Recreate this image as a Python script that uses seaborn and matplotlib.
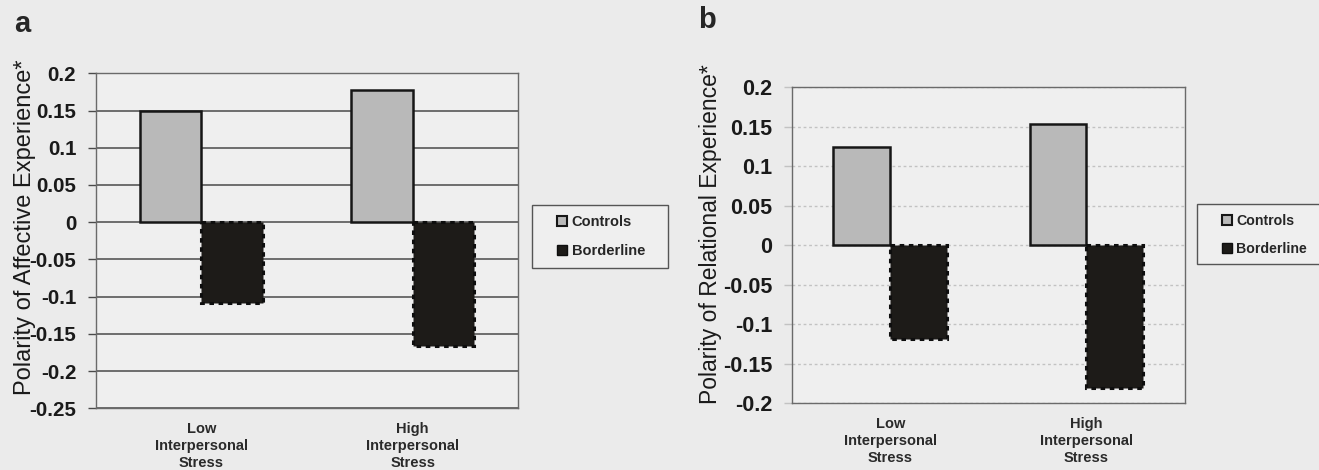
import numpy as np
import pandas as pd
import matplotlib
matplotlib.use("Agg")
import matplotlib.pyplot as plt
from matplotlib.patches import Patch, Rectangle
import seaborn as sns

# data
conditions = ["Low\nInterpersonal\nStress", "High\nInterpersonal\nStress"]
groups = ["Controls", "Borderline"]
affective_controls = [0.149, 0.177]
affective_borderline = [-0.108, -0.166]
relational_controls = [0.125, 0.153]
relational_borderline = [-0.118, -0.180]

ticks_a = [0.2, 0.15, 0.1, 0.05, 0, -0.05, -0.1, -0.15, -0.2, -0.25]
tick_labels_a = ["0.2", "0.15", "0.1", "0.05", "0", "-0.05", "-0.1", "-0.15", "-0.2", "-0.25"]
ticks_b = [0.2, 0.15, 0.1, 0.05, 0, -0.05, -0.1, -0.15, -0.2]
tick_labels_b = ["0.2", "0.15", "0.1", "0.05", "0", "-0.05", "-0.1", "-0.15", "-0.2"]

sns.set_style("white")
plt.rcParams["font.family"] = ["Liberation Sans", "DejaVu Sans"]

BG = "#ebebeb"
AX_BG = "#efefef"
CTRL = "#b9b9b9"
BORD = "#1d1b18"


def long_df(ctrl, bord):
    return pd.DataFrame({
        "Stress": conditions * 2,
        "Group": [groups[0]] * 2 + [groups[1]] * 2,
        "Value": list(ctrl) + list(bord),
    })


fig = plt.figure(figsize=(13.19, 4.70), dpi=100, facecolor=BG)
ax_a = fig.add_axes([0.0726, 0.1313, 0.3204, 0.7127])
ax_b = fig.add_axes([0.6005, 0.1419, 0.2976, 0.6724])

panels = [
    (ax_a, long_df(affective_controls, affective_borderline), ticks_a, tick_labels_a,
     (-0.25, 0.2), "Polarity of Affective Experience*", 17, 14.8,
     dict(color="#4a4a4a", linestyle="-", linewidth=1.1), (-0.142, 0.541)),
    (ax_b, long_df(relational_controls, relational_borderline), ticks_b, tick_labels_b,
     (-0.2, 0.2), "Polarity of Relational Experience*", 16.5, 15.5,
     dict(color="#c2c2c2", linestyle=(0, (2, 2)), linewidth=1.0), (-0.178, 0.536)),
]

for ax, df, ticks, labels, ylim, ylabel, lab_fs, tick_fs, grid_kw, lab_xy in panels:
    ax.set_facecolor(AX_BG)
    sns.barplot(data=df, x="Stress", y="Value", hue="Group", hue_order=groups,
                palette=[CTRL, BORD], width=0.58, errorbar=None, legend=False,
                saturation=1, ax=ax, zorder=3)
    for bar in ax.containers[0]:
        bar.set_edgecolor("#161616")
        bar.set_linewidth(1.8)
    for bar in ax.containers[1]:
        bar.set_edgecolor("#0e0e0e")
        bar.set_linewidth(2.2)
        bar.set_linestyle((0, (1.5, 1.5)))
    ax.set_ylim(*ylim)
    ax.set_yticks(ticks)
    ax.set_yticklabels(labels, fontsize=tick_fs, fontweight="bold", color="#1a1a1a")
    ax.tick_params(axis="y", direction="out", length=6, width=1,
                   color=grid_kw["color"], pad=8, left=True)
    ax.tick_params(axis="x", length=0, pad=10)
    for t in ax.get_xticklabels():
        t.set_fontsize(10.5)
        t.set_fontweight("bold")
        t.set_color("#2a2a2a")
        t.set_linespacing(1.25)
    ax.yaxis.grid(True, zorder=0, **grid_kw)
    ax.set_axisbelow(True)
    for s in ax.spines.values():
        s.set_visible(True)
        s.set_color("#6a6a6a")
        s.set_linewidth(1.0)
    ax.set_xlabel("")
    ax.set_ylabel(ylabel, fontsize=lab_fs, color="#1a1a1a")
    ax.yaxis.set_label_coords(*lab_xy)

# legends
handles = [Patch(facecolor=CTRL, edgecolor="#161616", linewidth=1.5, label=groups[0]),
           Patch(facecolor=BORD, edgecolor="#0e0e0e", linewidth=1.0, label=groups[1])]
for (x0, y0, w, h), anchor, fs in [((0.4033, 0.4298, 0.1031, 0.134), (0.4223, 0.4968), 10.5),
                                   ((0.9075, 0.4383, 0.11, 0.1277), (0.9265, 0.5006), 10.2)]:
    fig.patches.append(Rectangle((x0, y0), w, h, transform=fig.transFigure,
                                 facecolor=AX_BG, edgecolor="#555555", linewidth=1.0))
    fig.legend(handles=handles, loc="center left", bbox_to_anchor=anchor,
               bbox_transform=fig.transFigure, frameon=False, borderpad=0,
               borderaxespad=0, handlelength=0.7, handleheight=0.7,
               handletextpad=0.3, labelspacing=1.0,
               prop=dict(size=fs, weight="bold"))

# panel letters
fig.text(0.0106, 0.9326, "a", fontsize=21, fontweight="bold", va="baseline", ha="left")
fig.text(0.5296, 0.94, "b", fontsize=21, fontweight="bold", va="baseline", ha="left")

fig.savefig("out.png", dpi=100, facecolor=BG)
